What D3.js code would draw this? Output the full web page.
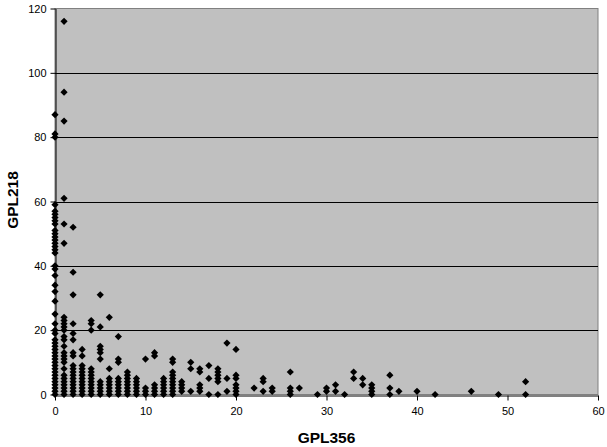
<!DOCTYPE html>
<html><head><meta charset="utf-8">
<script src="https://cdn.jsdelivr.net/npm/d3@7"></script>
<style>body{margin:0;background:#fff}svg{display:block}</style>
</head><body>
<script>
// GPL356 (x) values, and GPL218 (y) values observed at each x
const gpl356 = [0,1,2,3,4,5,6,7,8,9,10,11,12,13,14,15,16,17,18,19,20,22,23,24,26,27,29,30,31,32,33,34,35,37,38,40,42,46,49,52];
const gpl218 = [
  [0,1,2,3,4,5,6,7,8,9,10,11,12,13,14,15,16,17,19,20,22,25,29,32,34,37,39,40,44,45,46,47,48,49,50,51,53,54,55,56,57,59,80,81,87],
  [0,1,2,3,4,5,6,8,10,11,12,13,15,17,18,20,21,22,23,24,47,53,61,85,94,116],
  [0,1,2,3,4,5,6,7,8,9,12,13,17,19,22,31,38,52],
  [0,1,2,3,4,5,6,7,8,9,12,14],
  [0,1,2,3,4,5,6,7,8,20,22,23],
  [0,1,2,3,4,11,13,14,15,21,31],
  [0,1,2,3,4,5,8,24],
  [0,1,2,3,4,5,10,11,18],
  [0,1,2,3,4,5,6,7],
  [0,1,2,3,4,5],
  [0,1,2,11],
  [0,1,2,3,12,13],
  [0,1,2,3,4,5],
  [0,1,2,3,4,5,6,7,10,11],
  [1,2,3,4],
  [1,8,10],
  [1,2,3,7,8],
  [0,5,9],
  [0,4,5,6,7,8],
  [1,5,16],
  [0,1,2,3,5,6,14],
  [2],
  [1,4,5],
  [1,2],
  [0,1,2,7],
  [2],
  [0],
  [1,2],
  [1,3],
  [0],
  [5,7],
  [3,5],
  [0,1,2,3],
  [0,2,6],
  [1],
  [1],
  [0],
  [1],
  [0],
  [0,4]
];
const xTicks = [0,10,20,30,40,50,60];
const yTicks = [0,20,40,60,80,100,120];

const points = [];
gpl356.forEach((x, i) => gpl218[i].forEach(y => points.push({x, y})));

const W = 607, H = 447;
const m = {left: 55, right: 9, top: 8.5, bottom: 52.5};
const svg = d3.select("body").append("svg").attr("width", W).attr("height", H);

const x = d3.scaleLinear().domain([0, 60]).range([m.left, W - m.right]);
const y = d3.scaleLinear().domain([0, 120]).range([H - m.bottom, m.top]);

svg.append("rect").attr("x", x(0)).attr("y", y(120))
  .attr("width", x(60) - x(0)).attr("height", y(0) - y(120))
  .attr("fill", "#c0c0c0").attr("stroke", "#808080").attr("stroke-width", 1);

svg.append("g").selectAll("line").data(yTicks.filter(t => t > 0 && t < 120)).join("line")
  .attr("x1", x(0)).attr("x2", x(60))
  .attr("y1", d => Math.round(y(d)) + 0.5).attr("y2", d => Math.round(y(d)) + 0.5)
  .attr("stroke", "#000").attr("stroke-width", 1);

const font = "'Liberation Sans', Arial, sans-serif";

const yAxis = svg.append("g").attr("transform", `translate(${Math.round(x(0)) + 0.5},0)`)
  .call(d3.axisLeft(y).tickValues(yTicks).tickSize(5).tickPadding(4).tickSizeOuter(0));
const xAxis = svg.append("g").attr("transform", `translate(0,${Math.round(y(0)) + 0.5})`)
  .call(d3.axisBottom(x).tickValues(xTicks).tickSize(5).tickPadding(7).tickSizeOuter(0));
[yAxis, xAxis].forEach(g => {
  g.selectAll("path,line").attr("stroke", "#000");
  g.selectAll("text").attr("font-family", font).attr("font-size", 11).attr("fill", "#000");
});

const diamond = "M0,-3.6L3.6,0L0,3.6L-3.6,0Z";
svg.append("g").selectAll("path").data(points).join("path")
  .attr("d", diamond)
  .attr("transform", d => `translate(${x(d.x)},${y(d.y)})`)
  .attr("fill", "#000");

svg.append("text").attr("x", (x(0) + x(60)) / 2).attr("y", 443)
  .attr("text-anchor", "middle").attr("font-family", font).attr("font-weight", "bold")
  .attr("font-size", 15.5).text("GPL356");
svg.append("text")
  .attr("transform", `translate(17.5,200) rotate(-90)`)
  .attr("text-anchor", "middle").attr("font-family", font).attr("font-weight", "bold")
  .attr("font-size", 15.5).text("GPL218");
</script>
</body></html>
